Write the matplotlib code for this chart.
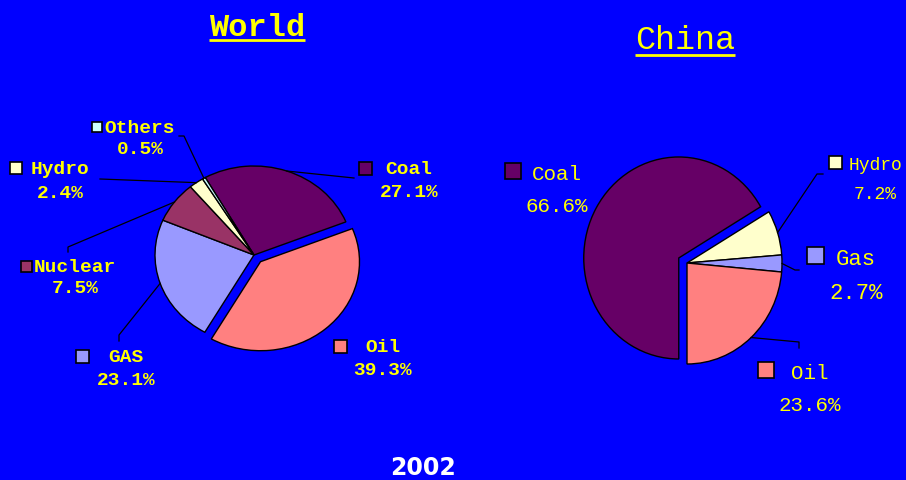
import numpy as np
import matplotlib.pyplot as plt
from matplotlib.patches import Rectangle

W, H = 906, 480

# primary energy consumption mix, 2002 (%)
world_fuels = ['Coal', 'Oil', 'GAS', 'Nuclear', 'Hydro', 'Others']
world_share = [27.1, 39.3, 23.1, 7.5, 2.4, 0.5]
china_fuels = ['Coal', 'Hydro', 'Gas', 'Oil']
china_share = [66.6, 7.2, 2.7, 23.6]
year = '2002'

colors = {'Coal': '#660066', 'Oil': '#FF8080', 'GAS': '#9999FF', 'Gas': '#9999FF',
          'Nuclear': '#993366', 'Hydro': '#FFFFCC', 'Others': '#CCFFFF'}
bg = '#0000FF'
yellow = '#FFFF00'
mono = 'Liberation Mono'

# label placement in pixels: legend box (x, y, size), text centre x,
# baselines of name / value, elbow points of the leader line
world_layout = {
    'Coal':    dict(box=(365, 168, 13), x=409, y=(174, 197), lead=[(354, 178)]),
    'Oil':     dict(box=(340, 346, 13), x=383, y=(352, 375), lead=[]),
    'GAS':     dict(box=(82, 356, 13), x=126, y=(362, 385), lead=[(119, 341), (119, 335)]),
    'Nuclear': dict(box=(26, 266, 11), x=75, y=(272, 293), lead=[(68, 252), (68, 247)]),
    'Hydro':   dict(box=(16, 168, 12), x=60, y=(174, 198), lead=[(100, 179)]),
    'Others':  dict(box=(97, 127, 10), x=140, y=(133, 154), lead=[(179, 136), (184, 136)]),
}
china_layout = {
    'Coal':  dict(box=(513, 171, 16), x=557, y=(180, 212), size=15, lead=[]),
    'Hydro': dict(box=(835, 162, 13), x=875, y=(170, 199), size=13, lead=[(823, 174), (817, 174)]),
    'Gas':   dict(box=(815, 255, 17), x=856, y=(265, 299), size=16, lead=[(799, 270), (795, 270)]),
    'Oil':   dict(box=(766, 370, 16), x=810, y=(379, 411), size=15, lead=[(799, 348), (799, 342)]),
}

fig = plt.figure(figsize=(W / 100, H / 100), dpi=100, facecolor=bg)
lab = fig.add_axes([0, 0, 1, 1], zorder=3)
lab.set_xlim(0, W)
lab.set_ylim(H, 0)
lab.axis('off')


def draw_pie(share, fuels, cx, cy, rx, ry, start, exploded):
    ax = fig.add_axes([(cx - 1.5 * rx) / W, (H - cy - 1.5 * ry) / H, 3 * rx / W, 3 * ry / H])
    explode = [0.1 if f == exploded else 0 for f in fuels]
    wedges, _ = ax.pie(share, colors=[colors[f] for f in fuels], explode=explode,
                       startangle=start, counterclock=False,
                       wedgeprops=dict(edgecolor='black', linewidth=1))
    ax.set_xlim(-1.5, 1.5)
    ax.set_ylim(-1.5, 1.5)
    ax.set_aspect('auto')
    ax.axis('off')
    # outer edge point at the middle of each wedge, in pixel coords
    tips = []
    for w in wedges:
        mid = np.deg2rad((w.theta1 + w.theta2) / 2)
        pt = (w.center[0] + w.r * np.cos(mid), w.center[1] + w.r * np.sin(mid))
        tips.append(lab.transData.inverted().transform(ax.transData.transform(pt)))
    return tips


def draw_labels(fuels, share, tips, layout, fsize, weight):
    for f, v, tip in zip(fuels, share, tips):
        L = layout[f]
        bx, by, s = L['box']
        lab.add_patch(Rectangle((bx - s / 2, by - s / 2), s, s, fc=colors[f], ec='black', lw=1.2))
        fs = L.get('size', fsize)
        lab.text(L['x'], L['y'][0], f, color=yellow, fontsize=fs, family=mono,
                 weight=weight, ha='center', va='baseline')
        lab.text(L['x'], L['y'][1], f'{v}%', color=yellow, fontsize=fs, family=mono,
                 weight=weight, ha='center', va='baseline')
        if L['lead']:
            pts = L['lead'] + [tip]
            lab.plot([p[0] for p in pts], [p[1] for p in pts], color='black', lw=0.9)


world_tips = draw_pie(world_share, world_fuels, 254, 255, 99, 89, 119.5, 'Oil')
china_tips = draw_pie(china_share, china_fuels, 687, 263, 95, 101, 270, 'Coal')
draw_labels(world_fuels, world_share, world_tips, world_layout, 14, 'bold')
draw_labels(china_fuels, china_share, china_tips, china_layout, 15, 'normal')

t_world = lab.text(257, 36, 'World', color=yellow, fontsize=23, family=mono,
                   weight='bold', ha='center', va='baseline')
t_china = lab.text(685, 49, 'China', color=yellow, fontsize=24, family=mono,
                   ha='center', va='baseline')
lab.text(423, 475, year, color='white', fontsize=17, family='DejaVu Sans',
         weight='bold', ha='center', va='baseline')

# underline the two titles
fig.canvas.draw()
for t, uy in [(t_world, 39.5), (t_china, 55)]:
    bb = t.get_window_extent()
    lab.plot([bb.x0, bb.x1], [uy, uy], color=yellow, lw=2, solid_capstyle='butt')

fig.savefig('out.png', dpi=100, facecolor=bg)
